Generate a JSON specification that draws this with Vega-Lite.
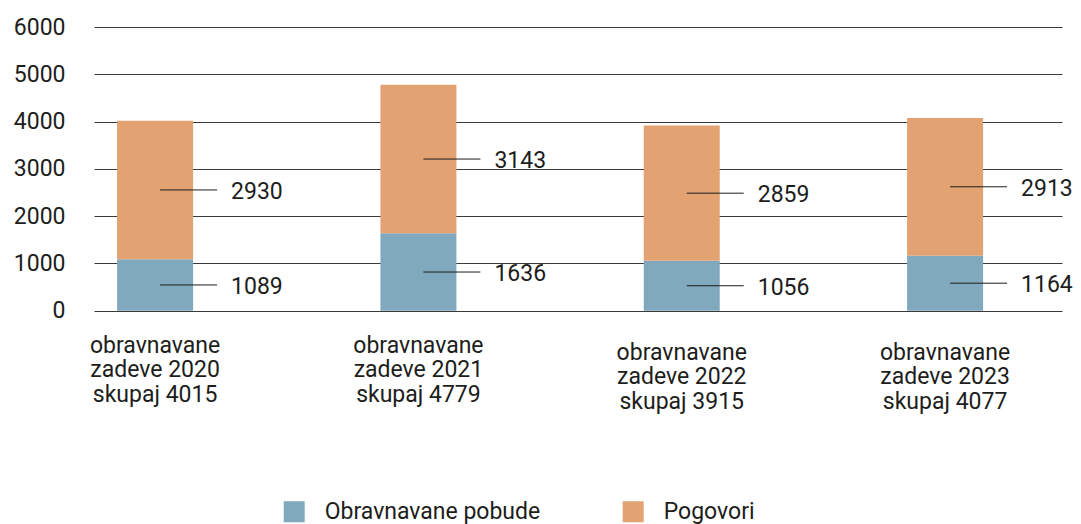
{
  "$schema": "https://vega.github.io/schema/vega-lite/v6.json",
  "width": 968,
  "height": 283.7,
  "autosize": {"type": "none"},
  "padding": {"left": 94, "top": 27, "right": 19, "bottom": 213.3},
  "background": "white",
  "config": {"view": {"stroke": null}, "font": "Roboto"},
  "data": {
    "values": [
      {"year": 2020, "category": "Obravnavane pobude", "value": 1089, "total": 4015},
      {"year": 2020, "category": "Pogovori", "value": 2930, "total": 4015},
      {"year": 2021, "category": "Obravnavane pobude", "value": 1636, "total": 4779},
      {"year": 2021, "category": "Pogovori", "value": 3143, "total": 4779},
      {"year": 2022, "category": "Obravnavane pobude", "value": 1056, "total": 3915},
      {"year": 2022, "category": "Pogovori", "value": 2859, "total": 3915},
      {"year": 2023, "category": "Obravnavane pobude", "value": 1164, "total": 4077},
      {"year": 2023, "category": "Pogovori", "value": 2913, "total": 4077}
    ]
  },
  "transform": [
    {"stack": "value", "groupby": ["year"], "sort": [{"field": "category", "order": "ascending"}], "as": ["v0", "v1"]},
    {"calculate": "(datum.v0 + datum.v1) / 2", "as": "mid"}
  ],
  "layer": [
    {
      "mark": {"type": "bar", "width": 76},
      "encoding": {
        "x": {"field": "year", "type": "quantitative", "scale": {"domain": [2019.787, 2023.425], "nice": false, "zero": false}, "axis": null},
        "y": {
          "field": "v0", "type": "quantitative",
          "scale": {"domain": [0, 6000], "nice": false},
          "axis": {
            "values": [0, 1000, 2000, 3000, 4000, 5000, 6000],
            "title": null, "domain": false, "ticks": false,
            "labelPadding": 29, "labelFontSize": 23, "labelFont": "Roboto",
            "labelColor": "#1d1d1b", "format": "d",
            "gridColor": "#3a3a3a", "gridWidth": 1
          }
        },
        "y2": {"field": "v1"},
        "color": {
          "field": "category", "type": "nominal",
          "scale": {"domain": ["Obravnavane pobude", "Pogovori"], "range": ["#80A9BD", "#E2A272"]},
          "legend": {
            "title": null, "orient": "none", "direction": "horizontal",
            "legendX": 188.7, "legendY": 473,
            "symbolType": "square", "symbolSize": 441, "symbolStrokeWidth": 0, "symbolOpacity": 1,
            "labelFontSize": 23, "labelFont": "Roboto", "labelColor": "#1d1d1b", "labelLimit": 500,
            "labelOffset": 19, "columnPadding": 81, "padding": 0
          }
        },
        "order": {"field": "category", "sort": "ascending"}
      }
    },
    {
      "mark": {"type": "rule", "color": "#1d1d1b", "strokeWidth": 1, "xOffset": 5, "x2Offset": 62},
      "encoding": {
        "x": {"field": "year", "type": "quantitative"},
        "x2": {"field": "year"},
        "y": {"field": "mid", "type": "quantitative"}
      }
    },
    {
      "mark": {"type": "text", "align": "left", "baseline": "middle", "dx": 76, "dy": 2, "fontSize": 23, "font": "Roboto", "color": "#1d1d1b"},
      "encoding": {
        "x": {"field": "year", "type": "quantitative"},
        "y": {"field": "mid", "type": "quantitative"},
        "text": {"field": "value", "type": "quantitative", "format": "d"}
      }
    },
    {
      "transform": [
        {"filter": "datum.category == 'Pogovori'"},
        {"calculate": "['obravnavane', 'zadeve ' + datum.year, 'skupaj ' + datum.total]", "as": "lbl"}
      ],
      "mark": {"type": "text", "align": "center", "baseline": "alphabetic", "fontSize": 23, "font": "Roboto", "color": "#1d1d1b", "lineHeight": 24.5, "dy": {"expr": "datum.year >= 2022 ? 49 : 42"}},
      "encoding": {
        "x": {"field": "year", "type": "quantitative"},
        "y": {"datum": 0},
        "text": {"field": "lbl"}
      }
    }
  ]
}
